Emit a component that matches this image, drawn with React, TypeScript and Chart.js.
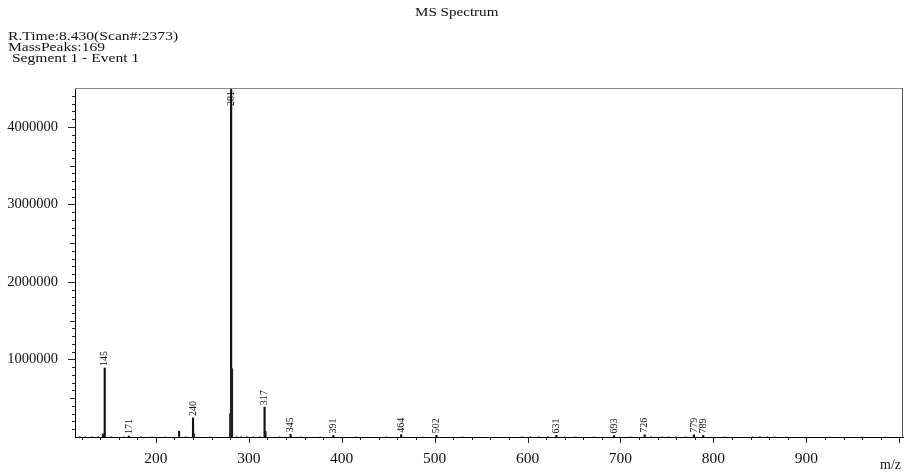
import React, { useEffect, useRef } from "react";
import { Chart, registerables } from "chart.js";

Chart.register(...registerables);

// Labelled peaks (m/z, intensity)
const peakMz = [145, 171, 240, 281, 317, 345, 391, 464, 502, 631, 693, 726, 779, 789];
const peakIntensity = [890000, 12000, 245000, 4500000, 385000, 35000, 20000, 30000, 22000, 20000, 18000, 28000, 28000, 20000];

// Unlabelled minor peaks
const minorMz = [143, 225, 241, 280, 282, 318];
const minorIntensity = [40000, 75000, 40000, 300000, 880000, 70000];

// Baseline noise
const noiseMz = [118, 124, 131, 138, 152, 166, 184, 196, 210, 232, 258, 287, 292, 298, 305, 312, 333, 356, 377, 415, 448, 487, 530, 594, 603, 612, 622, 640, 652, 672, 711, 733, 745, 752, 760, 770, 812, 842, 850, 858, 866, 878, 925, 960, 985];
const noiseIntensity = [12000, 8000, 10000, 9000, 7000, 6000, 8000, 6000, 5000, 9000, 7000, 14000, 12000, 10000, 9000, 8000, 7000, 6000, 6000, 5000, 6000, 5000, 5000, 9000, 10000, 8000, 9000, 7000, 6000, 6000, 7000, 9000, 10000, 8000, 9000, 7000, 6000, 8000, 9000, 8000, 7000, 6000, 5000, 5000, 5000];

const xMin = 113;
const xMax = 1004;
const yMax = 4500000;
const xTickLabels = [200, 300, 400, 500, 600, 700, 800, 900];
const yTickLabels = [1000000, 2000000, 3000000, 4000000];

const FONT = "'Liberation Serif', 'Times New Roman', serif";

const decorPlugin = {
  id: "decor",
  afterDraw(chart: any) {
    const { ctx, chartArea } = chart;
    const xs = chart.scales.x;
    const ys = chart.scales.y;
    const { left, right, top, bottom } = chartArea;
    ctx.save();
    // frame top & right
    ctx.strokeStyle = "#8a8a8a";
    ctx.lineWidth = 1;
    ctx.beginPath();
    ctx.moveTo(left, top + 0.5);
    ctx.lineTo(right, top + 0.5);
    ctx.stroke();
    ctx.strokeStyle = "#555";
    ctx.beginPath();
    ctx.moveTo(right - 0.5, top);
    ctx.lineTo(right - 0.5, bottom);
    ctx.stroke();
    // x tick marks
    ctx.strokeStyle = "#222";
    for (let v = 120; v <= 1000; v += 20) {
      const px = Math.round(xs.getPixelForValue(v)) + 0.5;
      const len = v % 100 === 0 ? 6 : 3;
      ctx.beginPath();
      ctx.moveTo(px, bottom);
      ctx.lineTo(px, bottom + len);
      ctx.stroke();
    }
    // y tick marks
    for (let v = 100000; v < yMax; v += 100000) {
      const py = Math.round(ys.getPixelForValue(v)) + 0.5;
      const len = v % 1000000 === 0 ? 7 : v % 500000 === 0 ? 5 : 3;
      ctx.beginPath();
      ctx.moveTo(left - len, py);
      ctx.lineTo(left, py);
      ctx.stroke();
    }
    // peak labels
    ctx.fillStyle = "#111";
    ctx.font = `10px ${FONT}`;
    ctx.textBaseline = "middle";
    ctx.textAlign = "left";
    peakMz.forEach((mz, i) => {
      const label = String(mz);
      const w = ctx.measureText(label).width;
      const px = xs.getPixelForValue(mz);
      const py = ys.getPixelForValue(peakIntensity[i]);
      const start = Math.max(py - 2, top + w + 3);
      ctx.save();
      ctx.translate(px, start);
      ctx.rotate(-Math.PI / 2);
      ctx.fillText(label, 0, 0);
      ctx.restore();
    });
    ctx.restore();
  },
};

export default function App() {
  const ref = useRef<HTMLCanvasElement>(null);
  useEffect(() => {
    if (!ref.current) return;
    const chart = new Chart(ref.current, {
      type: "bar",
      data: {
        datasets: [
          {
            label: "noise",
            data: noiseMz.map((x, i) => ({ x, y: noiseIntensity[i] })),
            backgroundColor: "#888",
            barThickness: 1,
          },
          {
            label: "minor",
            data: minorMz.map((x, i) => ({ x, y: minorIntensity[i] })),
            backgroundColor: "#222",
            barThickness: 1.5,
          },
          {
            label: "peaks",
            data: peakMz.map((x, i) => ({ x, y: peakIntensity[i] })),
            backgroundColor: "#111",
            barThickness: 1.5,
          },
        ],
      },
      options: {
        animation: false,
        responsive: true,
        maintainAspectRatio: false,
        layout: { padding: { top: 88, right: 2, left: 0, bottom: 0 } },
        plugins: { legend: { display: false }, tooltip: { enabled: false }, title: { display: false } },
        datasets: { bar: { grouped: false } } as any,
        scales: {
          x: {
            type: "linear",
            min: xMin,
            max: xMax,
            offset: false,
            grid: { display: false },
            border: { display: true, color: "#000", width: 1 },
            afterBuildTicks: (s: any) => {
              s.ticks = xTickLabels.map((v) => ({ value: v }));
            },
            afterFit: (s: any) => {
              s.height = 39;
            },
            ticks: {
              autoSkip: false,
              maxRotation: 0,
              padding: 5,
              color: "#111",
              font: { family: FONT, size: 15.5 },
              callback: (v: any) => String(v),
            },
          },
          y: {
            type: "linear",
            min: 0,
            max: yMax,
            grid: { display: false },
            border: { display: true, color: "#000", width: 1 },
            afterBuildTicks: (s: any) => {
              s.ticks = yTickLabels.map((v) => ({ value: v }));
            },
            afterFit: (s: any) => {
              s.width = 75;
            },
            ticks: {
              autoSkip: false,
              padding: 9,
              color: "#111",
              font: { family: FONT, size: 14.5 },
              callback: (v: any) => String(v),
            },
          },
        },
      },
      plugins: [decorPlugin],
    });
    return () => chart.destroy();
  }, []);

  const textStyle: React.CSSProperties = {
    position: "absolute",
    fontFamily: FONT,
    fontSize: 13,
    lineHeight: "14px",
    color: "#111",
    whiteSpace: "pre",
    transformOrigin: "left top",
    transform: "scaleX(1.2)",
  };

  return (
    <div style={{ position: "fixed", left: 0, top: 0, width: 905, height: 476, background: "#fff" }}>
      <canvas ref={ref} />
      <div style={{ ...textStyle, left: 415, top: 5, transform: "scaleX(1.16)" }}>MS Spectrum</div>
      <div style={{ ...textStyle, left: 8, top: 29 }}>R.Time:8.430(Scan#:2373)</div>
      <div style={{ ...textStyle, left: 8, top: 40 }}>MassPeaks:169</div>
      <div style={{ ...textStyle, left: 8, top: 51 }}> Segment 1 - Event 1</div>
      <div style={{ ...textStyle, left: 880, top: 458, transform: "none", fontSize: 14 }}>m/z</div>
    </div>
  );
}
